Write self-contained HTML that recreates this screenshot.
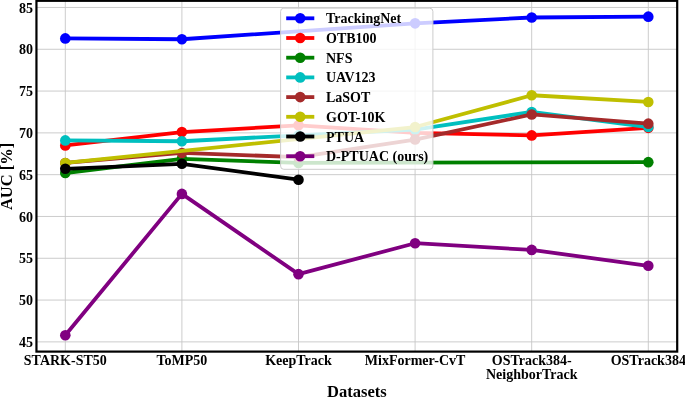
<!DOCTYPE html>
<html><head><meta charset="utf-8"><style>
html,body{margin:0;padding:0;background:#fff;width:685px;height:397px;overflow:hidden}
svg{display:block;will-change:transform}
</style></head><body>
<svg width="685" height="397" viewBox="0 0 685 397"><rect x="0" y="0" width="685" height="397" fill="#fff"/><defs><clipPath id="pc"><rect x="36.45" y="0.8" width="640.75" height="350.8"/></clipPath></defs><g stroke="#c6c6c6" stroke-width="0.9"><line x1="36.45" y1="341.87" x2="677.2" y2="341.87"/><line x1="36.45" y1="300.07" x2="677.2" y2="300.07"/><line x1="36.45" y1="258.27" x2="677.2" y2="258.27"/><line x1="36.45" y1="216.47" x2="677.2" y2="216.47"/><line x1="36.45" y1="174.67" x2="677.2" y2="174.67"/><line x1="36.45" y1="132.87" x2="677.2" y2="132.87"/><line x1="36.45" y1="91.07" x2="677.2" y2="91.07"/><line x1="36.45" y1="49.27" x2="677.2" y2="49.27"/><line x1="36.45" y1="7.47" x2="677.2" y2="7.47"/><line x1="65.30" y1="0.8" x2="65.30" y2="351.6"/><line x1="181.90" y1="0.8" x2="181.90" y2="351.6"/><line x1="298.50" y1="0.8" x2="298.50" y2="351.6"/><line x1="415.10" y1="0.8" x2="415.10" y2="351.6"/><line x1="531.70" y1="0.8" x2="531.70" y2="351.6"/><line x1="648.30" y1="0.8" x2="648.30" y2="351.6"/></g><g clip-path="url(#pc)"><g><polyline points="65.30,38.40 181.90,39.24 415.10,23.35 531.70,17.50 648.30,16.67" fill="none" stroke="#0000ff" stroke-width="3.8" stroke-linejoin="round" stroke-linecap="butt"/><circle cx="65.30" cy="38.40" r="5.3" fill="#0000ff"/><circle cx="181.90" cy="39.24" r="5.3" fill="#0000ff"/><circle cx="415.10" cy="23.35" r="5.3" fill="#0000ff"/><circle cx="531.70" cy="17.50" r="5.3" fill="#0000ff"/><circle cx="648.30" cy="16.67" r="5.3" fill="#0000ff"/></g><g><polyline points="65.30,145.41 181.90,132.03 298.50,125.35 415.10,132.87 531.70,135.38 648.30,127.85" fill="none" stroke="#ff0000" stroke-width="3.8" stroke-linejoin="round" stroke-linecap="butt"/><circle cx="65.30" cy="145.41" r="5.3" fill="#ff0000"/><circle cx="181.90" cy="132.03" r="5.3" fill="#ff0000"/><circle cx="298.50" cy="125.35" r="5.3" fill="#ff0000"/><circle cx="415.10" cy="132.87" r="5.3" fill="#ff0000"/><circle cx="531.70" cy="135.38" r="5.3" fill="#ff0000"/><circle cx="648.30" cy="127.85" r="5.3" fill="#ff0000"/></g><g><polyline points="65.30,173.00 181.90,158.79 298.50,162.97 648.30,162.13" fill="none" stroke="#008000" stroke-width="3.8" stroke-linejoin="round" stroke-linecap="butt"/><circle cx="65.30" cy="173.00" r="5.3" fill="#008000"/><circle cx="181.90" cy="158.79" r="5.3" fill="#008000"/><circle cx="298.50" cy="162.97" r="5.3" fill="#008000"/><circle cx="648.30" cy="162.13" r="5.3" fill="#008000"/></g><g><polyline points="65.30,140.39 181.90,141.23 298.50,135.38 415.10,129.53 531.70,111.97 648.30,127.02" fill="none" stroke="#00bfbf" stroke-width="3.8" stroke-linejoin="round" stroke-linecap="butt"/><circle cx="65.30" cy="140.39" r="5.3" fill="#00bfbf"/><circle cx="181.90" cy="141.23" r="5.3" fill="#00bfbf"/><circle cx="298.50" cy="135.38" r="5.3" fill="#00bfbf"/><circle cx="415.10" cy="129.53" r="5.3" fill="#00bfbf"/><circle cx="531.70" cy="111.97" r="5.3" fill="#00bfbf"/><circle cx="648.30" cy="127.02" r="5.3" fill="#00bfbf"/></g><g><polyline points="65.30,162.97 181.90,152.93 298.50,157.11 415.10,139.56 531.70,114.48 648.30,123.67" fill="none" stroke="#a52a2a" stroke-width="3.8" stroke-linejoin="round" stroke-linecap="butt"/><circle cx="65.30" cy="162.97" r="5.3" fill="#a52a2a"/><circle cx="181.90" cy="152.93" r="5.3" fill="#a52a2a"/><circle cx="298.50" cy="157.11" r="5.3" fill="#a52a2a"/><circle cx="415.10" cy="139.56" r="5.3" fill="#a52a2a"/><circle cx="531.70" cy="114.48" r="5.3" fill="#a52a2a"/><circle cx="648.30" cy="123.67" r="5.3" fill="#a52a2a"/></g><g><polyline points="65.30,162.97 415.10,127.02 531.70,95.25 648.30,101.94" fill="none" stroke="#bfbf00" stroke-width="3.8" stroke-linejoin="round" stroke-linecap="butt"/><circle cx="65.30" cy="162.97" r="5.3" fill="#bfbf00"/><circle cx="415.10" cy="127.02" r="5.3" fill="#bfbf00"/><circle cx="531.70" cy="95.25" r="5.3" fill="#bfbf00"/><circle cx="648.30" cy="101.94" r="5.3" fill="#bfbf00"/></g><g><polyline points="65.30,168.82 181.90,163.80 298.50,179.69" fill="none" stroke="#000000" stroke-width="3.8" stroke-linejoin="round" stroke-linecap="butt"/><circle cx="65.30" cy="168.82" r="5.3" fill="#000000"/><circle cx="181.90" cy="163.80" r="5.3" fill="#000000"/><circle cx="298.50" cy="179.69" r="5.3" fill="#000000"/></g><g><polyline points="65.30,335.18 181.90,193.90 298.50,274.15 415.10,243.22 531.70,249.91 648.30,265.79" fill="none" stroke="#800080" stroke-width="3.8" stroke-linejoin="round" stroke-linecap="butt"/><circle cx="65.30" cy="335.18" r="5.3" fill="#800080"/><circle cx="181.90" cy="193.90" r="5.3" fill="#800080"/><circle cx="298.50" cy="274.15" r="5.3" fill="#800080"/><circle cx="415.10" cy="243.22" r="5.3" fill="#800080"/><circle cx="531.70" cy="249.91" r="5.3" fill="#800080"/><circle cx="648.30" cy="265.79" r="5.3" fill="#800080"/></g></g><rect x="36.45" y="0.8" width="640.75" height="350.8" fill="none" stroke="#000" stroke-width="2.2"/><rect x="280.6" y="8.2" width="152.29999999999995" height="161.10000000000002" rx="3.2" ry="3.2" fill="#fff" fill-opacity="0.8" stroke="#cccccc" stroke-width="1"/><line x1="286.2" y1="18.30" x2="314.3" y2="18.30" stroke="#0000ff" stroke-width="3.8"/><circle cx="300.2" cy="18.30" r="5.3" fill="#0000ff"/><text x="326.0" y="23.30" style="font-family:'Liberation Serif',serif;font-weight:bold;font-size:14px">TrackingNet</text><line x1="286.2" y1="38.00" x2="314.3" y2="38.00" stroke="#ff0000" stroke-width="3.8"/><circle cx="300.2" cy="38.00" r="5.3" fill="#ff0000"/><text x="326.0" y="43.00" style="font-family:'Liberation Serif',serif;font-weight:bold;font-size:14px">OTB100</text><line x1="286.2" y1="57.70" x2="314.3" y2="57.70" stroke="#008000" stroke-width="3.8"/><circle cx="300.2" cy="57.70" r="5.3" fill="#008000"/><text x="326.0" y="62.70" style="font-family:'Liberation Serif',serif;font-weight:bold;font-size:14px">NFS</text><line x1="286.2" y1="77.40" x2="314.3" y2="77.40" stroke="#00bfbf" stroke-width="3.8"/><circle cx="300.2" cy="77.40" r="5.3" fill="#00bfbf"/><text x="326.0" y="82.40" style="font-family:'Liberation Serif',serif;font-weight:bold;font-size:14px">UAV123</text><line x1="286.2" y1="97.10" x2="314.3" y2="97.10" stroke="#a52a2a" stroke-width="3.8"/><circle cx="300.2" cy="97.10" r="5.3" fill="#a52a2a"/><text x="326.0" y="102.10" style="font-family:'Liberation Serif',serif;font-weight:bold;font-size:14px">LaSOT</text><line x1="286.2" y1="116.80" x2="314.3" y2="116.80" stroke="#bfbf00" stroke-width="3.8"/><circle cx="300.2" cy="116.80" r="5.3" fill="#bfbf00"/><text x="326.0" y="121.80" style="font-family:'Liberation Serif',serif;font-weight:bold;font-size:14px">GOT-10K</text><line x1="286.2" y1="136.50" x2="314.3" y2="136.50" stroke="#000000" stroke-width="3.8"/><circle cx="300.2" cy="136.50" r="5.3" fill="#000000"/><text x="326.0" y="141.50" style="font-family:'Liberation Serif',serif;font-weight:bold;font-size:14px">PTUA</text><line x1="286.2" y1="156.20" x2="314.3" y2="156.20" stroke="#800080" stroke-width="3.8"/><circle cx="300.2" cy="156.20" r="5.3" fill="#800080"/><text x="326.0" y="161.20" style="font-family:'Liberation Serif',serif;font-weight:bold;font-size:14px">D-PTUAC (ours)</text><text x="33.0" y="347.07" text-anchor="end" style="font-family:'Liberation Serif',serif;font-weight:bold;font-size:14px">45</text><text x="33.0" y="305.27" text-anchor="end" style="font-family:'Liberation Serif',serif;font-weight:bold;font-size:14px">50</text><text x="33.0" y="263.47" text-anchor="end" style="font-family:'Liberation Serif',serif;font-weight:bold;font-size:14px">55</text><text x="33.0" y="221.67" text-anchor="end" style="font-family:'Liberation Serif',serif;font-weight:bold;font-size:14px">60</text><text x="33.0" y="179.87" text-anchor="end" style="font-family:'Liberation Serif',serif;font-weight:bold;font-size:14px">65</text><text x="33.0" y="138.07" text-anchor="end" style="font-family:'Liberation Serif',serif;font-weight:bold;font-size:14px">70</text><text x="33.0" y="96.27" text-anchor="end" style="font-family:'Liberation Serif',serif;font-weight:bold;font-size:14px">75</text><text x="33.0" y="54.47" text-anchor="end" style="font-family:'Liberation Serif',serif;font-weight:bold;font-size:14px">80</text><text x="33.0" y="12.67" text-anchor="end" style="font-family:'Liberation Serif',serif;font-weight:bold;font-size:14px">85</text><text x="65.30" y="364.9" text-anchor="middle" style="font-family:'Liberation Serif',serif;font-weight:bold;font-size:14px">STARK-ST50</text><text x="181.90" y="364.9" text-anchor="middle" style="font-family:'Liberation Serif',serif;font-weight:bold;font-size:14px">ToMP50</text><text x="298.50" y="364.9" text-anchor="middle" style="font-family:'Liberation Serif',serif;font-weight:bold;font-size:14px">KeepTrack</text><text x="415.10" y="364.9" text-anchor="middle" style="font-family:'Liberation Serif',serif;font-weight:bold;font-size:14px">MixFormer-CvT</text><text x="531.70" y="364.90" text-anchor="middle" style="font-family:'Liberation Serif',serif;font-weight:bold;font-size:14px">OSTrack384-</text><text x="531.70" y="379.40" text-anchor="middle" style="font-family:'Liberation Serif',serif;font-weight:bold;font-size:14px">NeighborTrack</text><text x="648.30" y="364.9" text-anchor="middle" style="font-family:'Liberation Serif',serif;font-weight:bold;font-size:14px">OSTrack384</text><text x="356.85" y="396.6" text-anchor="middle" style="font-family:'Liberation Serif',serif;font-weight:bold;font-size:16.5px">Datasets</text><text transform="translate(12.2,176.4) rotate(-90)" x="0" y="0" text-anchor="middle" style="font-family:'Liberation Serif',serif;font-weight:bold;font-size:16.5px">AUC [%]</text></svg>
</body></html>
